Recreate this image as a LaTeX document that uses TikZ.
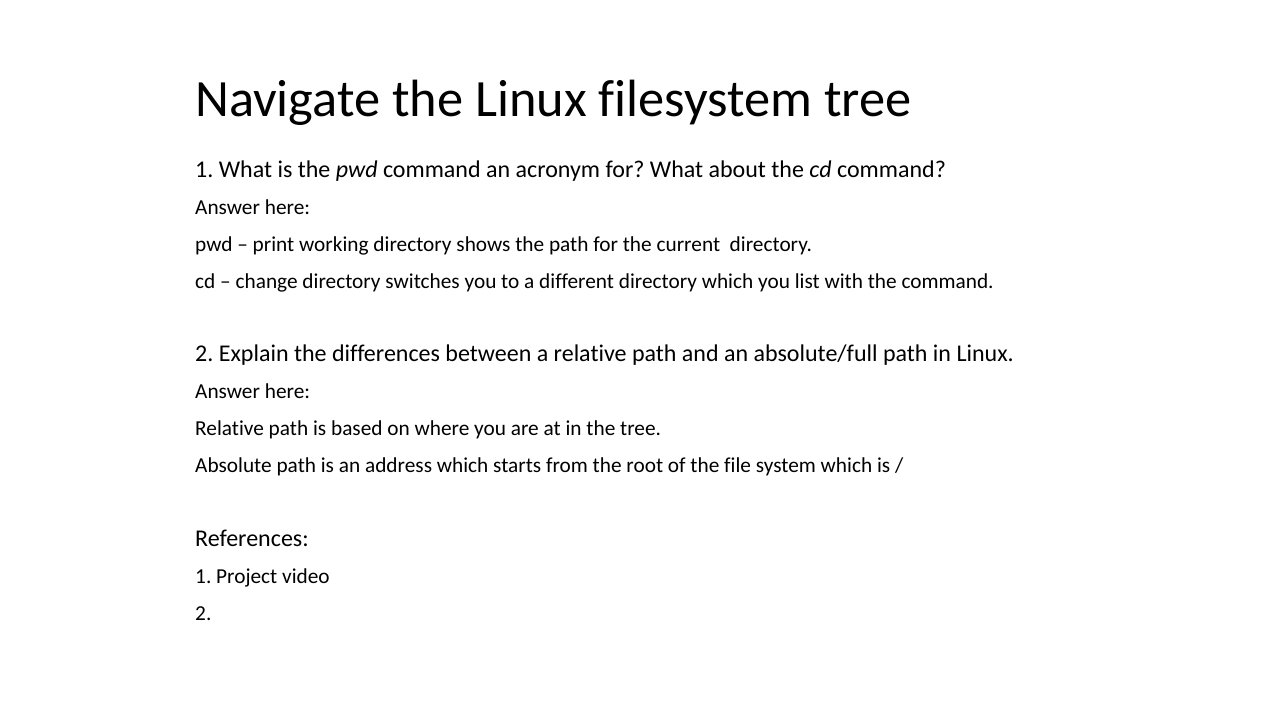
\documentclass[tikz,border=0pt]{standalone}
\usepackage{fontspec}
\setmainfont{Carlito}[Ligatures=NoCommon]
\frenchspacing
\tikzset{
  slidetitle/.style={anchor=base west, inner sep=0pt, font=\fontsize{52.4}{60}\selectfont},
  question/.style={anchor=base west, inner sep=0pt, font=\fontsize{24}{28}\selectfont},
  answer/.style={anchor=base west, inner sep=0pt, font=\fontsize{21.3}{25}\selectfont}
}
\begin{document}
\begin{tikzpicture}[x=1pt,y=1pt]
\useasboundingbox[fill=white] (0,0) rectangle (1280,-720);
\node[slidetitle] (title) at (195,-116) {Navigate the Linux filesystem tree};
\node[question] (q1) at (195,-177) {1. What is the \textit{pwd} command an acronym for? What about the \textit{cd} command?};
\node[answer] (a1) at (195,-214) {Answer here:};
\node[answer] (a2) at (195,-251) {pwd – print working directory shows the path for the current \ directory.};
\node[answer] (a3) at (195,-288) {cd – change directory switches you to a different directory which you list with the command.};
\node[question] (q2) at (195,-361) {2. Explain the differences between a relative path and an absolute/full path in Linux.};
\node[answer] (b1) at (195,-398) {Answer here:};
\node[answer] (b2) at (195,-435) {Relative path is based on where you are at in the tree.};
\node[answer] (b3) at (195,-472) {Absolute path is an address which starts from the root of the file system which is /};
\node[question] (refs) at (195,-546) {References:};
\node[answer] (r1) at (195,-583) {1. Project video};
\node[answer] (r2) at (195,-620) {2.};
\end{tikzpicture}
\end{document}
